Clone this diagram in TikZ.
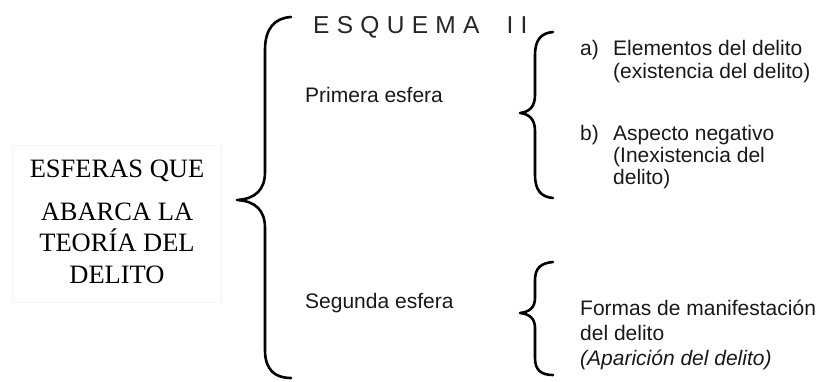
\documentclass[tikz,border=0pt]{standalone}
\usepackage{fontspec}
\setmainfont{Liberation Serif}
\newfontfamily\arialf{Liberation Sans}
\newcommand\myls{\kern7.3pt}
\begin{document}
\begin{tikzpicture}[x=1pt,y=-1pt,
  sans/.style={font=\arialf\fontsize{21}{24}\selectfont, anchor=base west, inner sep=0pt, text=black!90},
  serif/.style={font=\fontsize{26.5}{30}\selectfont, anchor=base, inner sep=0pt},
  brace/.style={line width=2.6pt, line cap=round, line join=round}]
\useasboundingbox (0,0) rectangle (822,381);
% left box
\node[draw=black!4, line width=1pt, minimum width=209pt, minimum height=157pt, inner sep=0pt] (box) at (116.5,223.5) {};
\node[serif] (l1) at (117,177) {ESFERAS QUE};
\node[serif] (l2) at (117,220) {ABARCA LA};
\node[serif] (l3) at (117,251) {TEORÍA DEL};
\node[serif] (l4) at (117,283) {DELITO};
% title
\node[anchor=base west, inner sep=0pt, font=\arialf\fontsize{24.5}{28}\selectfont, text=black!85] (title) at (313,33)
  {E\myls S\myls Q\myls U\myls E\myls M\myls A\kern27pt I\myls I};
% braces
\draw[brace] (291,17) .. controls (275,18) and (265,28) .. (265,50) -- (265,172)
  .. controls (265,190) and (255,199) .. (237,200)
  .. controls (255,201) and (265,210) .. (265,228) -- (265,350)
  .. controls (265,370) and (275,378) .. (291,378);
\draw[brace] (553,32) .. controls (541,33) and (535,40) .. (535,55) -- (535,95)
  .. controls (535,107) and (529,112) .. (520,113)
  .. controls (529,114) and (535,119) .. (535,131) -- (535,175)
  .. controls (535,190) and (541,197) .. (553,198);
\draw[brace] (553,262) .. controls (541,263) and (535,268) .. (535,280) -- (535,298)
  .. controls (535,308) and (529,312) .. (520,313)
  .. controls (529,314) and (535,318) .. (535,328) -- (535,358)
  .. controls (535,370) and (541,375) .. (553,375);
% texts
\node[sans] (p1) at (305,102) {Primera esfera};
\node[sans] (p2) at (305,308) {Segunda esfera};
\node[sans] (a) at (580,55) {a)};
\node[sans] (a1) at (613,55) {Elementos del delito};
\node[sans] (a2) at (613,78) {(existencia del delito)};
\node[sans] (b) at (580,140) {b)};
\node[sans] (b1) at (613,140) {Aspecto negativo};
\node[sans] (b2) at (613,162) {(Inexistencia del};
\node[sans] (b3) at (613,184) {delito)};
\node[sans] (c1) at (580,315) {Formas de manifestación};
\node[sans] (c2) at (580,340) {del delito};
\node[sans] (c3) at (580,365) {\itshape (Aparición del delito)};
\end{tikzpicture}
\end{document}
